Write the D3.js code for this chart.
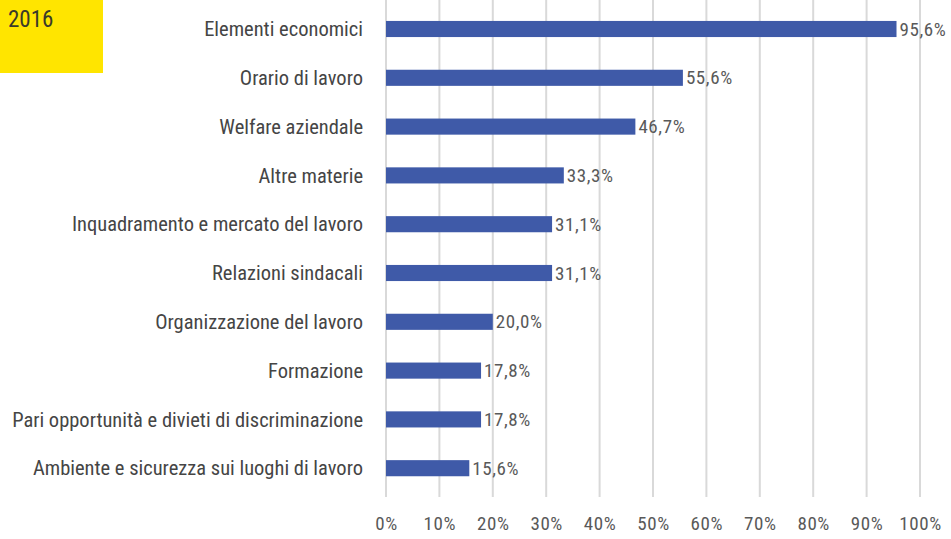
<!DOCTYPE html>
<html><head><meta charset="utf-8">
<script src="https://cdn.jsdelivr.net/npm/d3@7"></script>
<style>
body{margin:0;background:#fff;}
text{font-family:"Liberation Sans Narrow","Arial Narrow","Roboto Condensed","DejaVu Sans Condensed",sans-serif;}
</style></head>
<body>
<svg id="chart" width="951" height="539"></svg>
<script>
const categories = ["Elementi economici","Orario di lavoro","Welfare aziendale","Altre materie","Inquadramento e mercato del lavoro","Relazioni sindacali","Organizzazione del lavoro","Formazione","Pari opportunità e divieti di discriminazione","Ambiente e sicurezza sui luoghi di lavoro"];
const values = [95.6,55.6,46.7,33.3,31.1,31.1,20.0,17.8,17.8,15.6];
const ticks = [0,10,20,30,40,50,60,70,80,90,100];
const yearLabel = "2016";

const svg = d3.select("#chart");
const x = d3.scaleLinear().domain([0,100]).range([386,920]);
const y = d3.scaleBand().domain(categories).range([4.6,492.6]).paddingInner(0.67).paddingOuter(0.335);

// yellow box
svg.append("rect").attr("x",0).attr("y",0).attr("width",103).attr("height",73).attr("fill","#ffe500");
svg.append("text").attr("x",8).attr("y",27).attr("font-size",23).attr("fill","#3a3a2a").text(yearLabel);

// gridlines
svg.append("g").selectAll("line").data(ticks).join("line")
  .attr("x1",d=>x(d)).attr("x2",d=>x(d)).attr("y1",0).attr("y2",497)
  .attr("stroke","#d9d9d9").attr("stroke-width",2);

// axis labels
const xAxis = d3.axisBottom(x).tickValues(ticks).tickFormat(d=>d+"%").tickSize(0).tickPadding(0);
const ax = svg.append("g").attr("transform","translate(0,516)").call(xAxis);
ax.select(".domain").remove();
ax.selectAll("text").attr("font-size",19).attr("letter-spacing",0.6).attr("fill","#595959").attr("font-family",null);

// bars
svg.append("g").selectAll("rect").data(values).join("rect")
  .attr("x",x(0)).attr("y",(d,i)=>y(categories[i])).attr("width",d=>x(d)-x(0)).attr("height",y.bandwidth())
  .attr("fill","#3f5aa8");

// value labels
svg.append("g").selectAll("text").data(values).join("text")
  .attr("x",d=>x(d)+3).attr("y",(d,i)=>y(categories[i])+y.bandwidth()/2)
  .attr("dy","0.35em").attr("font-size",19).attr("letter-spacing",0.6).attr("fill","#595959")
  .text(d=>d.toFixed(1).replace(".",",")+"%");

// category labels
svg.append("g").selectAll("text").data(categories).join("text")
  .attr("x",363).attr("y",d=>y(d)+y.bandwidth()/2).attr("dy","0.35em")
  .attr("text-anchor","end").attr("font-size",20.5).attr("fill","#454545")
  .text(d=>d);
</script>
</body></html>
